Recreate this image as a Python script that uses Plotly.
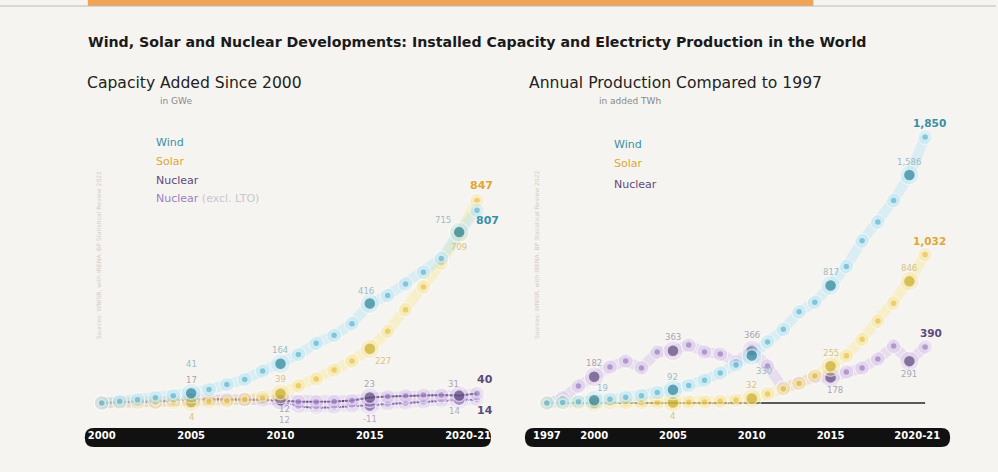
import plotly.graph_objects as go

# ---------------- data ----------------
years_cap = list(range(2000, 2022))
wind_cap = [0, 7, 14, 22, 30, 41, 57, 77, 98, 134, 164, 203, 250, 283, 332, 416, 450, 498, 547, 605, 715, 807]
solar_cap = [0, 0.3, 0.7, 1.4, 2.5, 4, 5.5, 8, 15, 22, 39, 72, 100, 138, 176, 227, 300, 390, 485, 585, 709, 847]
nuclear_cap = [0, 3, 6, 5, 11, 17, 16, 15, 14, 13, 12, 5, 4, 6, 10, 23, 27, 30, 33, 33, 31, 40]
nuclear_lto_cap = [0, 3, 6, 5, 11, 17, 16, 15, 14, 13, 12, -15, -20, -18, -13, -11, -4, -1, 4, 9, 14, 14]

years_prod = list(range(1997, 2022))
wind_prod = [0, 4, 9, 19, 26, 40, 51, 73, 92, 121, 159, 208, 264, 330, 425, 512, 634, 700, 817, 950, 1128, 1258, 1408, 1586, 1850]
solar_prod = [0, 0, 1, 1, 1, 1, 2, 3, 4, 5.5, 7.5, 12, 20, 32, 63, 97, 135, 190, 255, 329, 443, 570, 693, 846, 1032]
nuclear_prod = [0, 35, 118, 182, 250, 292, 243, 355, 363, 403, 355, 340, 285, 366, 257, 104, 139, 181, 178, 216, 243, 306, 396, 291, 390]

cap_ticks = [2000, 2005, 2010, 2015, 2020.5]
cap_ticktext = ["2000", "2005", "2010", "2015", "2020-21"]
prod_ticks = [1997, 2000, 2005, 2010, 2015, 2020.5]
prod_ticktext = ["1997", "2000", "2005", "2010", "2015", "2020-21"]

cap_highlight = [2005, 2010, 2015, 2020]
prod_highlight = [2000, 2005, 2010, 2015, 2020]

# labels: (series, year, text, bold)
cap_labels = [
    ("wind", 2005, "41", False), ("wind", 2010, "164", False), ("wind", 2015, "416", False),
    ("wind", 2020, "715", False), ("wind", 2021, "807", True),
    ("solar", 2005, "4", False), ("solar", 2010, "39", False), ("solar", 2015, "227", False),
    ("solar", 2020, "709", False), ("solar", 2021, "847", True),
    ("nuclear", 2005, "17", False), ("nuclear", 2010, "12", False), ("nuclear", 2015, "23", False),
    ("nuclear", 2020, "31", False), ("nuclear", 2021, "40", True),
    ("lto", 2010, "12", False), ("lto", 2015, "-11", False), ("lto", 2020, "14", False), ("lto", 2021, "14", True),
]
prod_labels = [
    ("wind", 2000, "19", False), ("wind", 2005, "92", False), ("wind", 2010, "330", False),
    ("wind", 2015, "817", False), ("wind", 2020, "1,586", False), ("wind", 2021, "1,850", True),
    ("solar", 2005, "4", False), ("solar", 2010, "32", False), ("solar", 2015, "255", False),
    ("solar", 2020, "846", False), ("solar", 2021, "1,032", True),
    ("nuclear", 2000, "182", False), ("nuclear", 2005, "363", False), ("nuclear", 2010, "366", False),
    ("nuclear", 2015, "178", False), ("nuclear", 2020, "291", False), ("nuclear", 2021, "390", True),
]

# ---------------- style ----------------
W, H = 998, 472
BG = "#f6f4f1"
FONT = "DejaVu Sans, Liberation Sans, sans-serif"

STY = {
    "wind": dict(small="#63b6d2", big="#2f8499", ring="#d3eef7", glow="rgba(170,225,245,0.38)",
                 lab="#9bbcc6", bold="#3a8fa8"),
    "solar": dict(small="#eac24c", big="#c9ad2a", ring="#f8ecbb", glow="rgba(250,228,140,0.38)",
                  lab="#d6c384", bold="#e0a830"),
    "nuclear": dict(small="#9d80bd", big="#5d4a7c", ring="#e4d8f2", glow="rgba(210,185,235,0.38)",
                    lab="#aaa3b3", bold="#5d4a7c"),
    "lto": dict(small="#b79cd8", big="#7a5fa0", ring="#ece3f7", glow="rgba(215,195,240,0.34)",
                lab="#b2aabb", bold="#5d4a7c"),
}


def px_x(p):
    return p / W


def px_y(p):
    return 1 - p / H


fig = go.Figure()


def add_series(key, xs, ys, hl, xa, ya, line=False, lw=0):
    s = STY[key]
    fig.add_trace(go.Scatter(x=xs, y=ys, xaxis=xa, yaxis=ya, mode="lines",
                             line=dict(color=s["glow"], width=10),
                             hoverinfo="skip", showlegend=False))
    if line:
        fig.add_trace(go.Scatter(x=xs, y=ys, xaxis=xa, yaxis=ya, mode="lines",
                                 line=dict(color=s["big"], width=lw),
                                 hoverinfo="skip", showlegend=False))
    sizes = [12 if x in hl else 7 for x in xs]
    cols = [s["big"] if x in hl else s["small"] for x in xs]
    fig.add_trace(go.Scatter(x=xs, y=ys, xaxis=xa, yaxis=ya, mode="markers",
                             marker=dict(size=[v + 8 for v in sizes], color=s["glow"]),
                             hoverinfo="skip", showlegend=False))
    fig.add_trace(go.Scatter(x=xs, y=ys, xaxis=xa, yaxis=ya, mode="markers",
                             marker=dict(size=sizes, color=cols, line=dict(color=s["ring"], width=1.5)),
                             name=key, showlegend=False))


# right chart baseline
fig.add_trace(go.Scatter(x=years_prod, y=[0] * len(years_prod), xaxis="x2", yaxis="y2", mode="lines",
                         line=dict(color="#5a5a5a", width=2), hoverinfo="skip", showlegend=False))

add_series("lto", years_cap, nuclear_lto_cap, cap_highlight, "x", "y", line=True, lw=2)
add_series("nuclear", years_cap, nuclear_cap, cap_highlight, "x", "y", line=True, lw=2)
add_series("solar", years_cap, solar_cap, cap_highlight, "x", "y")
add_series("wind", years_cap, wind_cap, cap_highlight, "x", "y")

add_series("nuclear", years_prod, nuclear_prod, prod_highlight, "x2", "y2")
add_series("solar", years_prod, solar_prod, prod_highlight, "x2", "y2")
add_series("wind", years_prod, wind_prod, prod_highlight, "x2", "y2")

annotations = []

cap_off = {
    ("wind", 2005): (0, 29), ("wind", 2010): (0, 14), ("wind", 2015): (-4, 13), ("wind", 2020): (-16, 12),
    ("wind", 2021): (10, -10),
    ("solar", 2005): (0, -15), ("solar", 2010): (0, 15), ("solar", 2015): (13, -12), ("solar", 2020): (0, -13),
    ("solar", 2021): (4, 15),
    ("nuclear", 2005): (0, 19), ("nuclear", 2010): (4, -9), ("nuclear", 2015): (0, 14), ("nuclear", 2020): (-6, 12),
    ("nuclear", 2021): (8, 14),
    ("lto", 2010): (4, -20), ("lto", 2015): (0, -13), ("lto", 2020): (-5, -11), ("lto", 2021): (8, -11),
}
prod_off = {
    ("wind", 2000): (8, 12), ("wind", 2005): (0, 13), ("wind", 2010): (12, -15), ("wind", 2015): (0, 14),
    ("wind", 2020): (0, 13), ("wind", 2021): (4, 14),
    ("solar", 2005): (0, -14), ("solar", 2010): (0, 13), ("solar", 2015): (0, 13), ("solar", 2020): (0, 13),
    ("solar", 2021): (4, 14),
    ("nuclear", 2000): (0, 14), ("nuclear", 2005): (0, 14), ("nuclear", 2010): (0, 15), ("nuclear", 2015): (4, -13),
    ("nuclear", 2020): (0, -13), ("nuclear", 2021): (6, 14),
}

cap_map = {"wind": wind_cap, "solar": solar_cap, "nuclear": nuclear_cap, "lto": nuclear_lto_cap}
prod_map = {"wind": wind_prod, "solar": solar_prod, "nuclear": nuclear_prod}

for key, yr, txt, bold in cap_labels:
    v = cap_map[key][years_cap.index(yr)]
    dx, dy = cap_off[(key, yr)]
    s = STY[key]
    annotations.append(dict(x=yr, y=v, xref="x", yref="y", text=f"<b>{txt}</b>" if bold else txt,
                            showarrow=False, xshift=dx, yshift=dy,
                            font=dict(family=FONT, size=11 if bold else 8.5,
                                      color=s["bold"] if bold else s["lab"])))
for key, yr, txt, bold in prod_labels:
    v = prod_map[key][years_prod.index(yr)]
    dx, dy = prod_off[(key, yr)]
    s = STY[key]
    annotations.append(dict(x=yr, y=v, xref="x2", yref="y2", text=f"<b>{txt}</b>" if bold else txt,
                            showarrow=False, xshift=dx, yshift=dy,
                            font=dict(family=FONT, size=10.5 if bold else 8.5,
                                      color=s["bold"] if bold else s["lab"])))

# titles
annotations.append(dict(x=px_x(86), y=px_y(42), xref="paper", yref="paper", xanchor="left", yanchor="middle",
                        showarrow=False,
                        text="<b>Wind, Solar and Nuclear Developments: Installed Capacity and Electricty Production in the World</b>",
                        font=dict(family=FONT, size=14.2, color="#1a1a1a")))
annotations.append(dict(x=px_x(85), y=px_y(83), xref="paper", yref="paper", xanchor="left", yanchor="middle",
                        showarrow=False, text="Capacity Added Since 2000",
                        font=dict(family=FONT, size=15.6, color="#222")))
annotations.append(dict(x=px_x(158), y=px_y(101), xref="paper", yref="paper", xanchor="left", yanchor="middle",
                        showarrow=False, text="in GWe", font=dict(family=FONT, size=9, color="#888")))
annotations.append(dict(x=px_x(528), y=px_y(83), xref="paper", yref="paper", xanchor="left", yanchor="middle",
                        showarrow=False, text="Annual Production Compared to 1997",
                        font=dict(family=FONT, size=15.6, color="#222")))
annotations.append(dict(x=px_x(598), y=px_y(101), xref="paper", yref="paper", xanchor="left", yanchor="middle",
                        showarrow=False, text="in added TWh", font=dict(family=FONT, size=9, color="#888")))

# custom legends
leg_left = [("Wind", STY["wind"]["bold"], 142), ("Solar", STY["solar"]["bold"], 161),
            ("Nuclear", "#5d4a7c", 180),
            ("Nuclear <span style='color:#cbc5cf'>(excl. LTO)</span>", "#9d80bd", 198)]
for t, c, yy in leg_left:
    annotations.append(dict(x=px_x(154), y=px_y(yy), xref="paper", yref="paper", xanchor="left",
                            yanchor="middle", showarrow=False, text=t,
                            font=dict(family=FONT, size=11, color=c)))
leg_right = [("Wind", STY["wind"]["bold"], 144), ("Solar", STY["solar"]["bold"], 163),
             ("Nuclear", "#5d4a7c", 184)]
for t, c, yy in leg_right:
    annotations.append(dict(x=px_x(613), y=px_y(yy), xref="paper", yref="paper", xanchor="left",
                            yanchor="middle", showarrow=False, text=t,
                            font=dict(family=FONT, size=11, color=c)))

# vertical faint source notes
for xx in (93, 537):
    annotations.append(dict(x=px_x(xx), y=px_y(255), xref="paper", yref="paper", showarrow=False,
                            textangle=-90, text="Sources: WNISR, with IRENA, BP Statistical Review 2022",
                            font=dict(family=FONT, size=6, color="#d2cdc7")))

shapes = []
shapes.append(dict(type="rect", xref="paper", yref="paper", x0=px_x(88), x1=px_x(815), y0=px_y(6), y1=px_y(0),
                   fillcolor="#f0a458", line=dict(width=0), layer="below"))
shapes.append(dict(type="line", xref="paper", yref="paper", x0=0, x1=1, y0=px_y(6), y1=px_y(6),
                   line=dict(color="#bdbab5", width=1), layer="below"))


def rounded_bar(x0, x1, y0, y1, r):
    pts = [
        (x0 + r, y0), (x1 - r, y0), ("Q", x1, y0, x1, y0 + r), (x1, y1 - r), ("Q", x1, y1, x1 - r, y1),
        (x0 + r, y1), ("Q", x0, y1, x0, y1 - r), (x0, y0 + r), ("Q", x0, y0, x0 + r, y0)]
    path = ""
    for i, p in enumerate(pts):
        if p[0] == "Q":
            path += f" Q{px_x(p[1]):.5f},{px_y(p[2]):.5f} {px_x(p[3]):.5f},{px_y(p[4]):.5f}"
        else:
            path += (" M" if i == 0 else " L") + f"{px_x(p[0]):.5f},{px_y(p[1]):.5f}"
    return dict(type="path", xref="paper", yref="paper", path=path + " Z", fillcolor="#111111",
                line=dict(width=0), layer="below")


shapes.append(rounded_bar(85, 492, 428, 447, 9))
shapes.append(rounded_bar(526, 952, 428, 447, 9))


def yr_range(p_first, p_last, y_first, y_last, d0, d1):
    ppy = (p_last - p_first) / (y_last - y_first)
    r0 = y_first - (p_first - d0) / ppy
    r1 = r0 + (d1 - d0) / ppy
    return [r0, r1]


def val_range(base_px, ppv, top_px, bot_px):
    return [-(bot_px - base_px) / ppv, (base_px - top_px) / ppv]


TOP, BOT = 110, 428
xr1 = yr_range(102, 478, 2000, 2021, 88, 490)
xr2 = yr_range(548, 927, 1997, 2021, 527, 950)
yr1 = val_range(403, 0.239, TOP, BOT)
yr2 = val_range(403, 0.1438, TOP, BOT)

tickfont = dict(family=FONT, size=10, color="white")
fig.update_layout(
    width=W, height=H, margin=dict(l=0, r=0, t=0, b=0),
    paper_bgcolor=BG, plot_bgcolor="rgba(0,0,0,0)",
    showlegend=False,
    xaxis=dict(domain=[px_x(88), px_x(490)], range=xr1, tickvals=cap_ticks,
               ticktext=[f"<b>{t}</b>" for t in cap_ticktext],
               showgrid=False, zeroline=False, showline=False, ticks="", tickfont=tickfont, anchor="y"),
    yaxis=dict(domain=[px_y(BOT), px_y(TOP)], range=yr1, visible=False, anchor="x"),
    xaxis2=dict(domain=[px_x(527), px_x(950)], range=xr2, tickvals=prod_ticks,
                ticktext=[f"<b>{t}</b>" for t in prod_ticktext],
                showgrid=False, zeroline=False, showline=False, ticks="", tickfont=tickfont, anchor="y2"),
    yaxis2=dict(domain=[px_y(BOT), px_y(TOP)], range=yr2, visible=False, anchor="x2"),
    annotations=annotations, shapes=shapes,
)

fig.write_html("out.html", config={"displayModeBar": False},
               post_script="document.body.style.margin='0';")
